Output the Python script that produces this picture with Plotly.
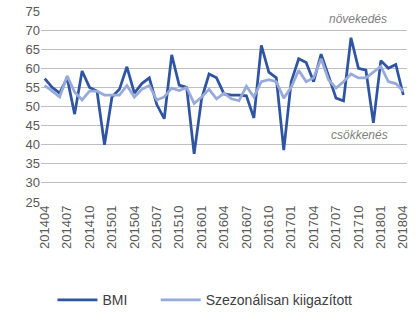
import plotly.graph_objects as go

months = ["201404","201405","201406","201407","201408","201409","201410","201411","201412",
          "201501","201502","201503","201504","201505","201506","201507","201508","201509","201510","201511","201512",
          "201601","201602","201603","201604","201605","201606","201607","201608","201609","201610","201611","201612",
          "201701","201702","201703","201704","201705","201706","201707","201708","201709","201710","201711","201712",
          "201801","201802","201803","201804"]
bmi = [57.3, 55.0, 53.5, 57.5, 48.0, 59.3, 55.0, 54.0, 40.0,
       52.5, 54.5, 60.4, 53.5, 56.0, 57.5, 50.5, 46.8, 63.5, 55.6, 55.0, 37.6,
       52.0, 58.5, 57.5, 53.3, 53.0, 53.0, 52.8, 47.0, 66.0, 59.0, 57.5, 38.6,
       56.5, 62.5, 61.5, 56.5, 63.7, 58.0, 52.2, 51.5, 68.0, 60.0, 59.5, 45.7,
       62.0, 60.0, 61.0, 53.0]
sa = [55.5, 54.0, 52.5, 58.0, 53.8, 51.7, 54.0, 54.0, 53.0,
      53.0, 53.0, 55.5, 52.5, 54.5, 55.5, 51.7, 52.5, 54.8, 54.2, 55.0, 50.8,
      52.5, 54.5, 52.0, 53.5, 52.0, 51.5, 55.3, 52.5, 56.5, 57.0, 56.5, 52.2,
      55.0, 59.5, 56.5, 57.5, 62.5, 57.0, 54.8, 56.5, 58.5, 57.5, 57.5, 59.0,
      60.5, 56.5, 56.0, 54.0]
tick_labels = months[::3]
tick_pos = list(range(0, len(months), 3))
y_ticks = list(range(25, 80, 5))

x = list(range(len(months)))
font = "Liberation Sans"

fig = go.Figure()
fig.add_trace(go.Scatter(x=x, y=bmi, mode="lines", name="BMI" + "\u00a0" * 6,
                         line=dict(color="#2F55A2", width=2.75)))
fig.add_trace(go.Scatter(x=x, y=sa, mode="lines", name="Szezonálisan kiigazított",
                         line=dict(color="#97AADA", width=2.75)))

fig.add_annotation(x=42, y=72.9, text="<i>növekedés</i>", showarrow=False,
                   font=dict(family=font, size=12, color="#7F7F7F"), xanchor="center", yanchor="middle")
fig.add_annotation(x=42.2, y=42.5, text="<i>csökkenés</i>", showarrow=False,
                   font=dict(family=font, size=12, color="#7F7F7F"), xanchor="center", yanchor="middle")

fig.update_layout(
    width=420, height=322,
    margin=dict(l=41, r=13, t=11, b=120, autoexpand=False),
    plot_bgcolor="white", paper_bgcolor="white",
    font=dict(family=font, size=12, color="#595959"),
    showlegend=True,
    legend=dict(orientation="h", x=0.448, xanchor="center", y=-0.515, yanchor="middle",
                font=dict(size=14, color="#404040"), itemwidth=40, tracegroupgap=0),
    xaxis=dict(range=[-0.5, len(months) - 0.5], tickmode="array", tickvals=tick_pos,
               ticktext=tick_labels, tickangle=-90, showgrid=False, zeroline=False,
               showline=False, ticks="", tickfont=dict(size=13, color="#595959")),
    yaxis=dict(range=[25, 75], tickmode="array", tickvals=y_ticks, showgrid=True,
               gridcolor="#BFBFBF", gridwidth=1, zeroline=False, showline=False, ticks="",
               tickfont=dict(size=13, color="#595959")),
)

fig.write_html("out.html")
